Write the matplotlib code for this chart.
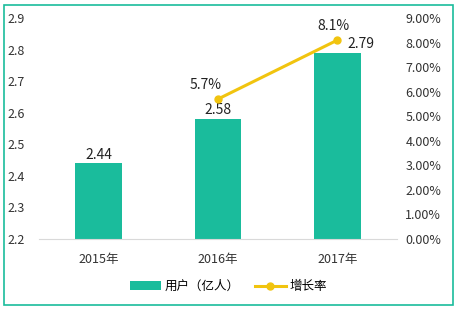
import matplotlib.pyplot as plt
from matplotlib.patches import Rectangle
from matplotlib.ticker import FuncFormatter

plt.rcParams['font.family'] = ['Noto Sans CJK SC', 'DejaVu Sans']

years = ['2015年', '2016年', '2017年']
users = [2.44, 2.58, 2.79]
growth_years = ['2016年', '2017年']
growth = [5.7, 8.1]

bar_color = '#1abc9c'
line_color = '#f1c40f'

fig = plt.figure(figsize=(4.57, 3.11), dpi=100)
ax = fig.add_axes([0.0853, 0.2315, 0.7834, 0.7105])

x = list(range(len(years)))
ax.bar(x, users, width=0.39, color=bar_color, label='用户（亿人）', zorder=2)
ax.set_xlim(-0.5, 2.5)
ax.set_ylim(2.2, 2.9)
ax.set_yticks([2.2, 2.3, 2.4, 2.5, 2.6, 2.7, 2.8, 2.9])
ax.yaxis.set_major_formatter(FuncFormatter(lambda v, p: f'{v:.1f}'))
ax.set_xticks(x)
ax.set_xticklabels(years)
for s in ['top', 'right', 'left']:
    ax.spines[s].set_visible(False)
ax.spines['bottom'].set_color('#d9d9d9')
ax.tick_params(length=0, labelsize=9, colors='#333333')
ax.tick_params(axis='x', pad=10)
ax.tick_params(axis='y', pad=10)

offsets = [0, 0, 0.2]
for i, v in enumerate(users):
    ax.text(i + offsets[i], v + 0.005, f'{v:.2f}', ha='center', va='bottom',
            fontsize=10, color='#222222')

ax2 = ax.twinx()
gx = [years.index(y) for y in growth_years]
ax2.plot(gx, growth, color=line_color, lw=2.2, marker='o', ms=5,
         label='增长率', zorder=3)
ax2.set_ylim(0, 9)
ax2.set_yticks(range(10))
ax2.yaxis.set_major_formatter(FuncFormatter(lambda v, p: f'{v:.2f}%'))
for s in ['top', 'right', 'left', 'bottom']:
    ax2.spines[s].set_visible(False)
ax2.tick_params(length=0, labelsize=9, colors='#333333', pad=6)

ax2.text(gx[0] - 0.1, growth[0] + 0.3, f'{growth[0]}%', ha='center',
         va='bottom', fontsize=10, color='#222222')
ax2.text(gx[1] - 0.03, growth[1] + 0.3, f'{growth[1]}%', ha='center',
         va='bottom', fontsize=10, color='#222222')

h1, l1 = ax.get_legend_handles_labels()
h2, l2 = ax2.get_legend_handles_labels()
fig.legend(h1 + h2, l1 + l2, loc='center', bbox_to_anchor=(0.5, 0.078),
           ncol=2, frameon=False, fontsize=9, handlelength=2.5,
           columnspacing=1.2, handletextpad=0.3)

fig.patches.append(Rectangle((0.009, 0.02), 0.982, 0.965, transform=fig.transFigure,
                             fill=False, edgecolor=bar_color, lw=1.2))

fig.savefig('out.png', dpi=100)
